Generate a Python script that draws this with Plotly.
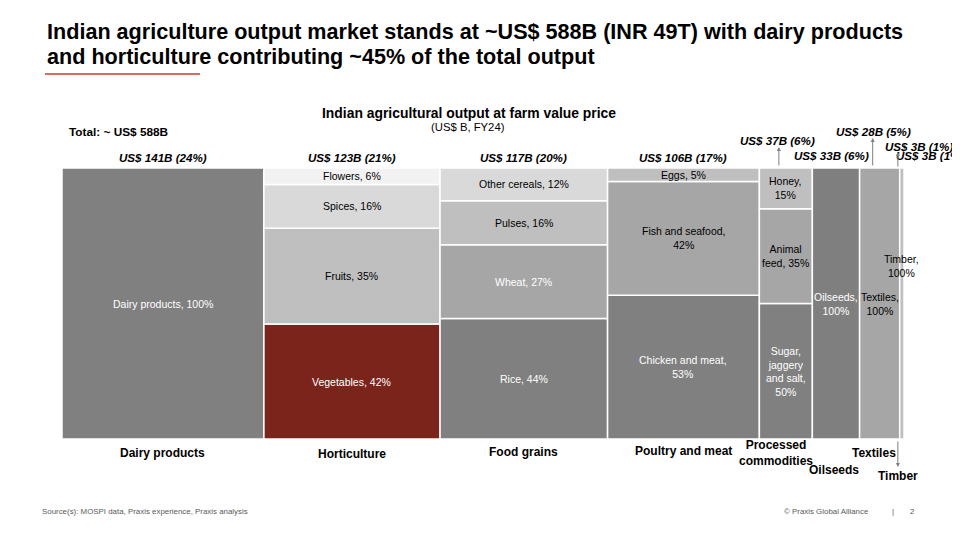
import plotly.graph_objects as go

categories = ["Dairy products", "Horticulture", "Food grains", "Poultry and meat",
              "Processed<br>commodities", "Oilseeds", "Textiles", "Timber"]
totals = [141, 123, 117, 106, 37, 33, 28, 3]          # US$ B
total_pct = [24, 21, 20, 17, 6, 6, 5, 1]               # as printed on the slide

segment_names = [
    ["Dairy products"],
    ["Vegetables", "Fruits", "Spices", "Flowers"],
    ["Rice", "Wheat", "Pulses", "Other cereals"],
    ["Chicken and meat", "Fish and seafood", "Eggs"],
    ["Sugar, jaggery and salt", "Animal feed", "Honey"],
    ["Oilseeds"],
    ["Textiles"],
    ["Timber"],
]
segment_shares = [
    [100],
    [42, 35, 16, 6],
    [44, 27, 16, 12],
    [53, 42, 5],
    [50, 35, 15],
    [100],
    [100],
    [100],
]

# --- styling ---
DARK, MID, LIGHT, LIGHTER, LIGHTEST, RED = "#808080", "#A6A6A6", "#BFBFBF", "#D9D9D9", "#F2F2F2", "#7B241C"
segment_colors = [
    [DARK],
    [RED, LIGHT, LIGHTER, LIGHTEST],
    [DARK, MID, LIGHT, LIGHTER],
    [DARK, MID, LIGHT],
    [DARK, MID, LIGHT],
    ["#7F7F7F"],
    [MID],
    [LIGHT],
]
white_text = {"Dairy products", "Vegetables", "Rice", "Wheat", "Chicken and meat",
              "Sugar, jaggery and salt", "Oilseeds"}
wrapped = {
    "Fish and seafood": "Fish and seafood,<br>{}%",
    "Chicken and meat": "Chicken and meat,<br>{}%",
    "Honey": "Honey,<br>{}%",
    "Animal feed": "Animal<br>feed, {}%",
    "Sugar, jaggery and salt": "Sugar,<br>jaggery<br>and salt,<br>{}%",
    "Oilseeds": "Oilseeds,<br>{}%",
    "Textiles": "Textiles,<br>{}%",
    "Timber": "Timber,<br>{}%",
}
label_y_override = {"Timber": 0.64}

FONT = "Liberation Sans, Arial, sans-serif"

# plot area in screen pixels (page has an 8px body margin)
OFF = 8
L, R, T, B = 62, 904, 168, 439


def pxx(p):
    return (p - L) / (R - L)


def pxy(p):
    return (B - p) / (B - T)


def seg_label(name, share):
    if name in wrapped:
        return wrapped[name].format(share)
    return f"{name}, {share}%"


def note(x, y, text, size, color="black", xanchor="center", xref="paper", xshift=0):
    return dict(x=x, y=y, xref=xref, yref="paper", text=text, showarrow=False,
                xanchor=xanchor, yanchor="middle", xshift=xshift,
                font=dict(family=FONT, size=size, color=color))


def arrow(x, y, ay, xshift=0):
    return dict(x=x, y=y, xref="x", yref="paper", text="", showarrow=True,
                arrowhead=2, arrowsize=0.8, arrowwidth=1, arrowcolor="#7F7F7F",
                ax=0, ay=ay, xshift=xshift)


fig = go.Figure()
annotations = []

x0 = 0
mids = []
for i, cat in enumerate(categories):
    w = totals[i]
    mid = x0 + w / 2
    mids.append(mid)
    tot = sum(segment_shares[i])
    base = 0.0
    for name, share, col in zip(segment_names[i], segment_shares[i], segment_colors[i]):
        h = share / tot
        fig.add_trace(go.Bar(
            x=[mid], y=[h], base=[base], width=[w],
            marker=dict(color=col, line=dict(color="white", width=1.5)),
            hoverinfo="skip", showlegend=False,
        ))
        annotations.append(dict(
            x=mid, y=label_y_override.get(name, base + h / 2), xref="x", yref="y",
            text=seg_label(name, share), showarrow=False, xanchor="center", yanchor="middle",
            font=dict(family=FONT, size=10.5, color="white" if name in white_text else "black"),
        ))
        base += h
    x0 += w

val_text = [f"<b><i>US$ {v}B ({p}%)</i></b>" for v, p in zip(totals, total_pct)]
TOP = 11.6

# value labels on top of the four big columns
for i in range(4):
    annotations.append(note(mids[i], pxy(157), val_text[i], TOP, xref="x"))
# processed commodities (raised, with arrow)
annotations.append(note(mids[4], pxy(140), val_text[4], TOP, xref="x", xshift=-8))
annotations.append(arrow(mids[4], pxy(147), 20, xshift=-7))
# oilseeds
annotations.append(note(mids[5], pxy(155), val_text[5], TOP, xref="x", xshift=-4))
# textiles (raised, with arrow)
annotations.append(note(mids[6], pxy(131), val_text[6], TOP, xref="x", xshift=-6))
annotations.append(arrow(mids[6], pxy(138), 29, xshift=-7))
# timber (two overlapping labels as on the slide)
annotations.append(note(pxx(883), pxy(146), val_text[7], TOP, xanchor="left"))
annotations.append(note(pxx(894), pxy(156), val_text[7], TOP, xanchor="left"))
annotations.append(arrow(mids[7], pxy(152), 16, xshift=-4))

# category labels below the bars
bot_y = [453, 454, 452, 451, 453, 470, 453, 476]
bot_shift = [0, 0, 0, 0, -10, -2, -6, -4]
for i, cat in enumerate(categories):
    annotations.append(note(mids[i], pxy(bot_y[i]), f"<b>{cat}</b>", 12, xref="x",
                            xshift=bot_shift[i]))
annotations.append(arrow(mids[7], pxy(467), -27, xshift=-4))

# slide title, chart title and notes
annotations += [
    note(pxx(45), pxy(32), "<b>Indian agriculture output market stands at ~US$ 588B (INR 49T) with dairy products</b>",
         21.6, xanchor="left"),
    note(pxx(45), pxy(56), "<b>and horticulture contributing ~45% of the total output</b>",
         21.6, xanchor="left"),
    note(pxx(469), pxy(113), "<b>Indian agricultural output at farm value price</b>", 13.9),
    note(pxx(468), pxy(127), "(US$ B, FY24)", 11.3),
    note(pxx(67), pxy(132), "<b>Total: ~ US$ 588B</b>", 11.8, xanchor="left"),
    note(pxx(40), pxy(511), "Source(s): MOSPI data, Praxis experience, Praxis analysis", 7.9,
         color="#595959", xanchor="left"),
    note(pxx(871), pxy(511), "© Praxis Global Alliance", 7.9, color="#595959", xanchor="right"),
    note(pxx(893), pxy(511), "|", 8, color="#595959"),
    note(pxx(912), pxy(511), "2", 7.9, color="#595959"),
]

fig.update_layout(
    width=960, height=540,
    margin=dict(l=L - OFF, r=960 - R + OFF, t=T - OFF, b=540 - B + OFF, pad=0),
    barmode="overlay",
    plot_bgcolor="white", paper_bgcolor="white",
    xaxis=dict(range=[0, sum(totals)], visible=False, fixedrange=True),
    yaxis=dict(range=[0, 1], visible=False, fixedrange=True),
    annotations=annotations,
    shapes=[dict(type="line", xref="paper", yref="paper", x0=pxx(45), x1=pxx(200),
                 y0=pxy(74), y1=pxy(74), line=dict(color="#E0685D", width=2))],
)

fig.write_html("out.html")
